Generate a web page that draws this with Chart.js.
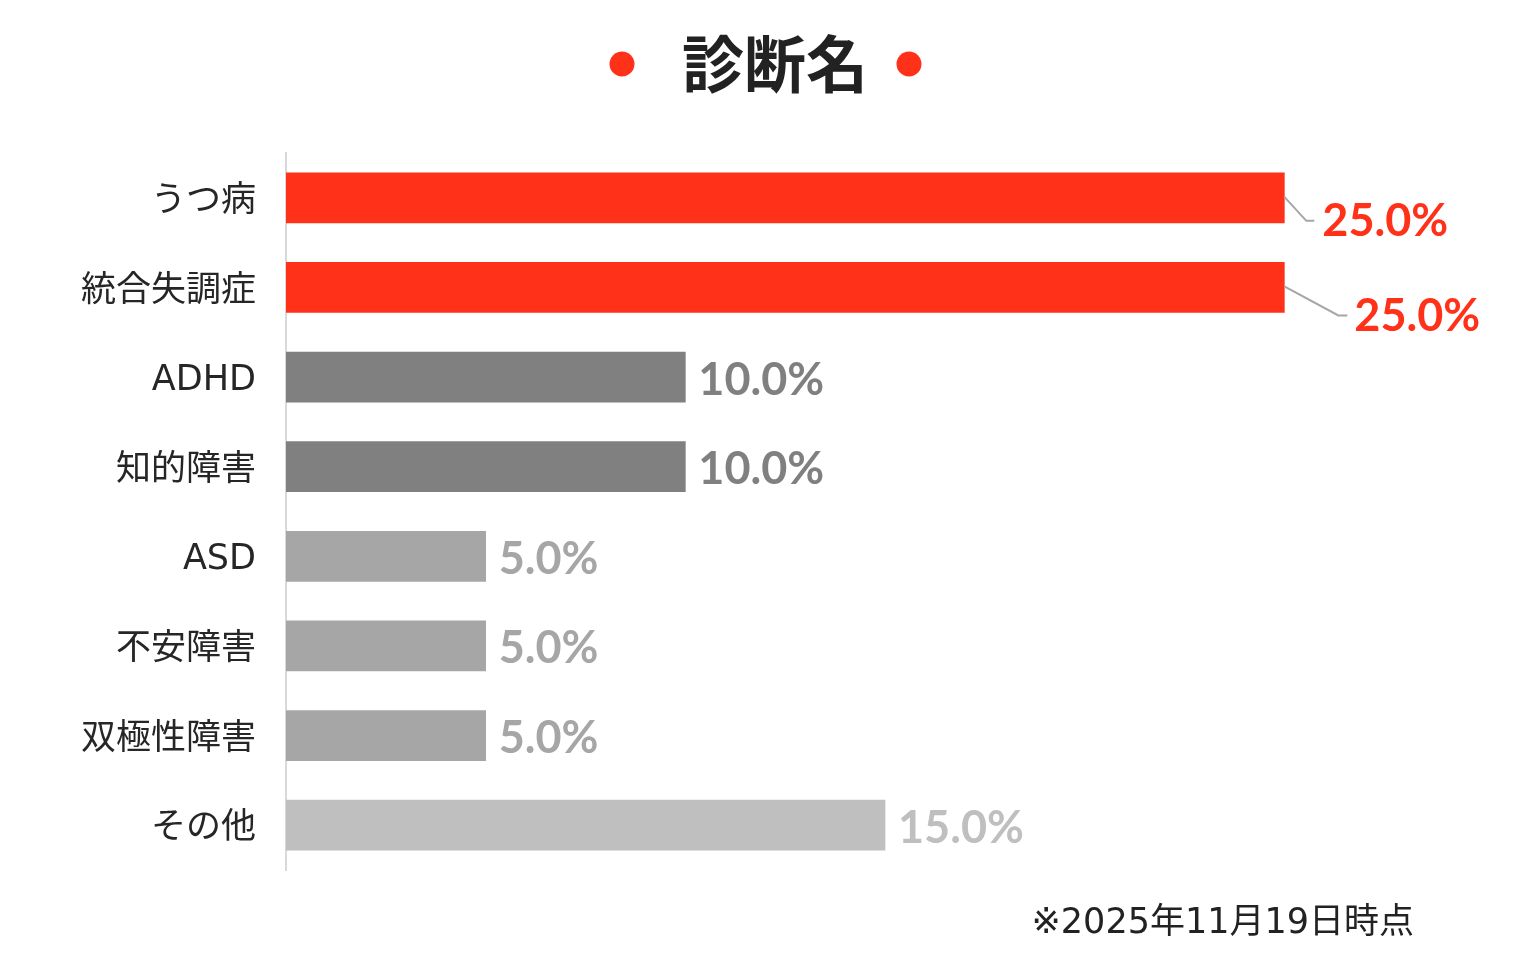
<!DOCTYPE html>
<html><head><meta charset="utf-8">
<script src="https://cdn.jsdelivr.net/npm/chart.js@4"></script>
<style>html,body{margin:0;padding:0;background:#fff;}#wrap{width:1523px;height:960px;}</style>
</head><body><div id="wrap"><canvas id="c" width="1523" height="960"></canvas></div>
<script>
const categories = ['うつ病','統合失調症','ADHD','知的障害','ASD','不安障害','双極性障害','その他'];
const values = [25.0, 25.0, 10.0, 10.0, 5.0, 5.0, 5.0, 15.0];
const barColors = ['#FF3118','#FF3118','#808080','#808080','#A6A6A6','#A6A6A6','#A6A6A6','#BFBFBF'];
const titleText = '診断名';
const footnoteText = '※2025年11月19日時点';
// label displacement (style) for the first two bars with leader lines
const labelShift = {0:{dx:38,dy:24,elbow:[22,23],tail:30}, 1:{dx:70,dy:29,elbow:[54,28],tail:63}};

const jp = '"Noto Sans CJK JP", "Noto Sans", sans-serif';
const mixed = '"DejaVu Sans", "Noto Sans CJK JP", sans-serif';
const labelFont = 'bold 45px Lato, "Noto Sans", sans-serif';

const decor = {
  id:'decor',
  afterDatasetsDraw(chart){
    const ctx = chart.ctx;
    const meta = chart.getDatasetMeta(0);
    ctx.save();
    ctx.textBaseline = 'middle';
    ctx.font = labelFont;
    meta.data.forEach((bar, i) => {
      const txt = values[i].toFixed(1) + '%';
      ctx.fillStyle = barColors[i];
      const s = labelShift[i];
      if (s) {
        ctx.strokeStyle = '#A6A6A6';
        ctx.lineWidth = 2;
        ctx.beginPath();
        ctx.moveTo(bar.x, bar.y - 1);
        ctx.lineTo(bar.x + s.elbow[0], bar.y + s.elbow[1]);
        ctx.lineTo(bar.x + s.tail, bar.y + s.elbow[1]);
        ctx.stroke();
        ctx.textAlign = 'left';
        ctx.fillText(txt, bar.x + s.dx, bar.y + s.dy);
      } else {
        ctx.textAlign = 'left';
        ctx.fillText(txt, bar.x + 13, bar.y + 3);
      }
    });
    // title
    ctx.fillStyle = '#222222';
    ctx.font = 'bold 62px ' + jp;
    ctx.textAlign = 'center';
    ctx.fillText(titleText, 775, 64);
    ctx.fillStyle = '#FF3118';
    [622, 909].forEach(x => { ctx.beginPath(); ctx.arc(x, 64, 12.5, 0, Math.PI*2); ctx.fill(); });
    // footnote
    ctx.fillStyle = '#222222';
    ctx.font = '35px ' + mixed;
    ctx.textAlign = 'right';
    ctx.fillText(footnoteText, 1414, 924);
    ctx.restore();
  }
};

new Chart(document.getElementById('c'), {
  type:'bar',
  data:{ labels:categories, datasets:[{ data:values, backgroundColor:barColors, borderWidth:0, barThickness:50 }]},
  options:{
    indexAxis:'y', responsive:false, animation:false,
    layout:{ padding:{ top:153, bottom:90, left:0, right:39 } },
    plugins:{ legend:{display:false}, tooltip:{enabled:false}, title:{display:false} },
    scales:{
      x:{ display:false, min:0, max:30 },
      y:{
        grid:{ display:false, drawTicks:false },
        border:{ display:true, color:'#D9D9D9', width:2 },
        ticks:{ color:'#262626', font:{ family:'"DejaVu Sans", "Noto Sans CJK JP"', size:35 }, padding:30, labelOffset:4 },
        afterFit(scale){ scale.width = 286; }
      }
    }
  },
  plugins:[decor]
});
</script></body></html>
